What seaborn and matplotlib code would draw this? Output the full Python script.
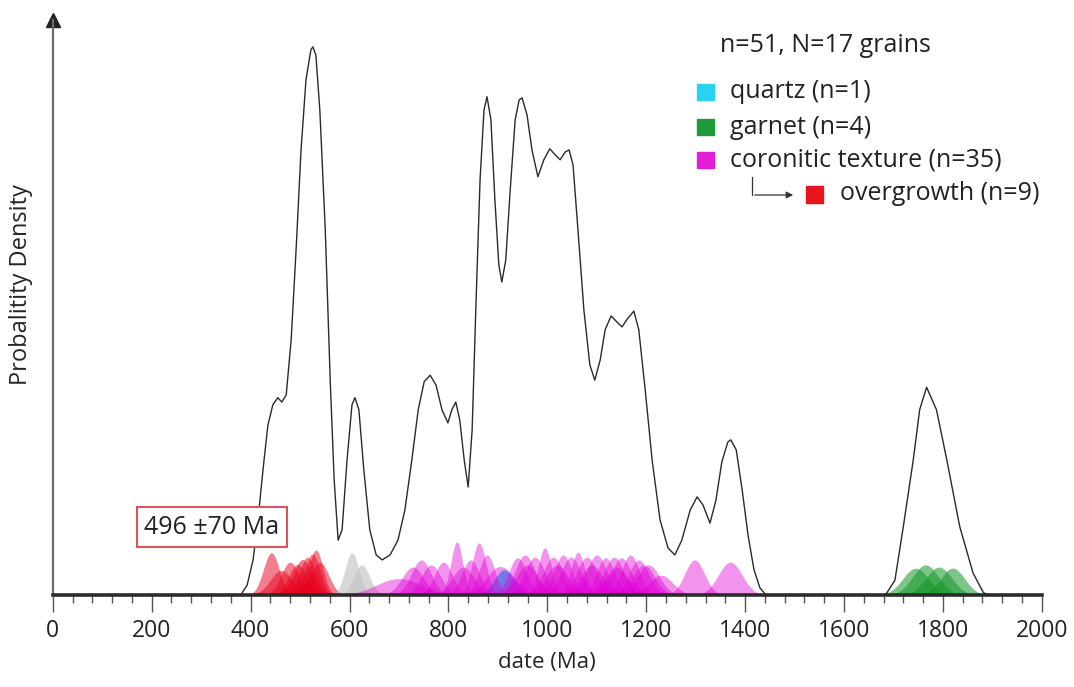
"""Probability density plot of dates with per-grain coloured distributions."""

import matplotlib.pyplot as plt
import numpy as np
import seaborn as sns
from matplotlib.lines import Line2D
from matplotlib.patches import FancyArrowPatch, Rectangle
from matplotlib.ticker import MultipleLocator

# summed probability density curve (date in Ma, density in arbitrary units)
CURVE_DATE = [
    370, 380, 393, 405, 415, 425, 435, 445, 455, 463,
    472, 482, 492, 502, 512, 522, 526, 532, 540, 551,
    561, 569, 577, 585, 595, 605, 611, 619, 629, 641,
    654, 666, 682, 698, 712, 726, 739, 751, 763, 775,
    787, 799, 807, 815, 823, 832, 840, 848, 856, 864,
    872, 878, 886, 894, 902, 908, 916, 925, 935, 943,
    949, 959, 969, 981, 993, 1005, 1016, 1026, 1036, 1044,
    1052, 1062, 1074, 1086, 1096, 1107, 1117, 1129, 1141, 1151,
    1163, 1175, 1185, 1198, 1212, 1228, 1244, 1258, 1272, 1289,
    1303, 1315, 1329, 1341, 1353, 1365, 1371, 1382, 1394, 1406,
    1418, 1430, 1442, 1680, 1686, 1703, 1720, 1740, 1753, 1767,
    1787, 1808, 1834, 1861, 1882, 1895,
]
CURVE_DENSITY = [
    0, 0, 1.8, 6.4, 13.7, 22.8, 31.0, 34.7, 36.0, 35.2,
    36.5, 46.5, 63.0, 81.2, 94.0, 99.5, 100, 98.5, 88.5, 66.6,
    39.2, 21.0, 10.0, 11.9, 24.6, 34.7, 36.0, 33.8, 22.8, 11.9,
    7.3, 6.4, 7.3, 10.0, 15.5, 24.6, 33.8, 38.9, 40.1, 38.3,
    33.8, 31.4, 33.8, 35.2, 31.9, 24.6, 19.7, 30.1, 53.8, 75.7,
    88.5, 90.9, 86.7, 72.1, 60.2, 57.1, 61.1, 73.9, 86.7, 90.3,
    90.7, 87.6, 81.2, 76.3, 79.4, 81.4, 80.3, 79.4, 80.8, 81.2,
    78.5, 66.6, 52.0, 42.0, 39.2, 42.9, 48.4, 50.9, 49.8, 48.9,
    50.5, 51.8, 48.4, 37.4, 24.6, 13.7, 8.6, 7.3, 10.0, 15.5,
    17.9, 16.4, 13.1, 17.3, 24.3, 27.9, 28.3, 26.5, 19.2, 10.9,
    4.6, 1.3, 0, 0, 0.3, 2.7, 12.5, 24.6, 33.8, 37.9,
    33.8, 24.6, 12.5, 4.0, 0.4, 0,
]

# individual analyses: age (Ma), 1 sigma (Ma), plotted peak height
OVERGROWTH_AGE = [442, 462, 480, 495, 505, 515, 525, 532, 540]
OVERGROWTH_SIGMA = [16, 22, 18, 18, 18, 16, 15, 14, 18]
OVERGROWTH_HEIGHT = [7.7, 4.5, 6.0, 5.6, 6.5, 6.9, 7.5, 8.2, 6.0]

OTHER_AGE = [605, 625]
OTHER_SIGMA = [14, 16]
OTHER_HEIGHT = [7.7, 5.5]

QUARTZ_AGE = [913]
QUARTZ_SIGMA = [20]
QUARTZ_HEIGHT = [4.6]

CORONITIC_AGE = [
    700, 728, 745, 765, 790, 817, 830, 845, 862, 878,
    905, 940, 955, 960, 975, 995, 1012, 1020, 1032, 1048,
    1062, 1080, 1090, 1100, 1118, 1135, 1140, 1150, 1168, 1185,
    1195, 1205, 1230, 1298, 1370,
]
CORONITIC_SIGMA = [
    45, 22, 20, 20, 18, 12, 22, 18, 14, 16,
    28, 18, 20, 22, 20, 13, 20, 22, 18, 20,
    14, 20, 22, 20, 18, 20, 22, 20, 18, 20,
    22, 22, 24, 20, 24,
]
CORONITIC_HEIGHT = [
    3.0, 5.1, 6.4, 5.5, 6.0, 9.7, 5.1, 6.4, 9.5, 7.3,
    5.2, 6.8, 7.3, 5.5, 6.9, 8.6, 6.9, 5.5, 7.3, 6.9,
    7.8, 6.9, 5.5, 7.3, 6.8, 6.9, 5.1, 6.8, 7.3, 6.4,
    5.5, 5.5, 3.6, 6.4, 6.0,
]

GARNET_AGE = [1745, 1765, 1792, 1820]
GARNET_SIGMA = [26, 26, 26, 24]
GARNET_HEIGHT = [4.9, 5.5, 5.1, 4.9]

LEGEND_LABELS = ["quartz (n=1)", "garnet (n=4)", "coronitic texture (n=35)", "overgrowth (n=9)"]
LEGEND_COLORS = ["#29d3f0", "#1f9a3a", "#e01fd6", "#e8141e"]

W, H = 1074, 687


def fx(x):
    return x / W


def fy(y):
    return 1 - y / H


def draw_grains(ax, ages, sigmas, heights, color, alpha):
    grid = np.linspace(0, 2000, 4001)
    for age, sigma, height in zip(ages, sigmas, heights):
        dens = height * np.exp(-0.5 * ((grid - age) / sigma) ** 2)
        mask = dens > 0.02
        ax.fill_between(grid[mask], 0, dens[mask], color=color, alpha=alpha, lw=0)


def main():
    sns.set_style("white")
    plt.rcParams["font.family"] = ["Open Sans", "DejaVu Sans"]
    plt.rcParams["text.color"] = "#222222"

    fig = plt.figure(figsize=(W / 100, H / 100), dpi=100)
    ax = fig.add_axes([fx(52.8), fy(595), (1041.8 - 52.8) / W, (595 - 20) / H])

    draw_grains(ax, OVERGROWTH_AGE, OVERGROWTH_SIGMA, OVERGROWTH_HEIGHT, "#e8001c", 0.5)
    draw_grains(ax, OTHER_AGE, OTHER_SIGMA, OTHER_HEIGHT, "#c4c4c4", 0.65)
    draw_grains(ax, QUARTZ_AGE, QUARTZ_SIGMA, QUARTZ_HEIGHT, "#00c8f0", 0.85)
    draw_grains(ax, CORONITIC_AGE, CORONITIC_SIGMA, CORONITIC_HEIGHT, "#e000d6", 0.42)
    draw_grains(ax, GARNET_AGE, GARNET_SIGMA, GARNET_HEIGHT, "#149628", 0.55)

    sns.lineplot(x=CURVE_DATE, y=CURVE_DENSITY, color="#2a2a2a", lw=1.0, ax=ax, estimator=None)

    ax.set_xlim(0, 2000)
    ax.set_ylim(0, 104.9)
    ax.set_yticks([])
    ax.xaxis.set_major_locator(MultipleLocator(200))
    ax.xaxis.set_minor_locator(MultipleLocator(40))
    ax.tick_params(axis="x", which="major", bottom=True, length=12, width=1, color="#555555",
                   labelsize=16.5, labelcolor="#222222", pad=5)
    ax.tick_params(axis="x", which="minor", bottom=True, length=6, width=1, color="#555555")

    for side in ("top", "right"):
        ax.spines[side].set_visible(False)
    ax.spines["bottom"].set_linewidth(2.6)
    ax.spines["bottom"].set_color("#2b2b2b")
    ax.spines["left"].set_linewidth(1.6)
    ax.spines["left"].set_color("#6a6a6a")
    ax.plot(0, 1, marker="^", ms=10, color="#222222", transform=ax.transAxes, clip_on=False)

    ax.set_xlabel("date (Ma)", fontsize=16, labelpad=7)
    ax.set_ylabel("Probalitity Density", fontsize=17)
    ax.yaxis.set_label_coords(-(52.8 - 33) / 989, 0.54)

    # legend
    fig.text(fx(720), fy(45), "n=51, N=17 grains", ha="left", va="center", fontsize=18)
    rows_y = [92, 127, 160]
    for label, color, y in zip(LEGEND_LABELS[:3], LEGEND_COLORS[:3], rows_y):
        fig.add_artist(Rectangle((fx(697), fy(y + 8)), 17 / W, 16 / H, color=color,
                                 transform=fig.transFigure))
        fig.text(fx(730), fy(y), label, ha="left", va="center", fontsize=18)
    fig.add_artist(Rectangle((fx(806), fy(203)), 17 / W, 17 / H, color=LEGEND_COLORS[3],
                             transform=fig.transFigure))
    fig.text(fx(840), fy(193), LEGEND_LABELS[3], ha="left", va="center", fontsize=18)
    fig.add_artist(Line2D([fx(752), fx(752)], [fy(177), fy(195)], color="#333333", lw=0.9,
                          transform=fig.transFigure))
    fig.add_artist(FancyArrowPatch((fx(752), fy(195)), (fx(796), fy(195)), arrowstyle="-|>",
                                   mutation_scale=10, lw=0.9, color="#333333",
                                   transform=fig.transFigure))

    fig.text(fx(212), fy(527), "496 \u00b170 Ma", ha="center", va="center", fontsize=18,
             bbox=dict(boxstyle="square,pad=0.3", fc="white", ec="#d9545a", lw=1.5))

    fig.savefig("out.png", dpi=100)


if __name__ == "__main__":
    main()
